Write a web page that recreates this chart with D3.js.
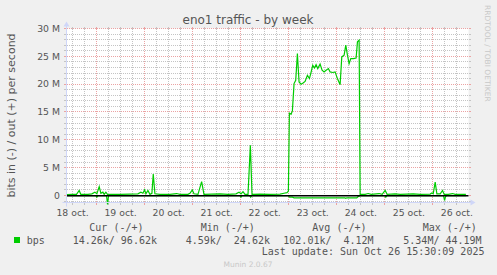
<!DOCTYPE html>
<meta charset="utf-8">
<style>
    body {
        margin: 0;
        background: #f0f0f0;
    }

    text {
        font-family: "DejaVu Sans", sans-serif;
        fill: #555;
    }

    .mono {
        font-family: "DejaVu Sans Mono", monospace;
        font-size: 10px;
    }
</style>

<body>
    <script src="https://d3js.org/d3.v7.min.js"></script>
    <script>
        // eno1 traffic, Mbit/s (UTC)
        var outTimes = [
            "2025-10-18 09:10", "2025-10-18 11:40", "2025-10-18 14:00", "2025-10-18 15:20", "2025-10-18 16:10",
            "2025-10-18 19:40", "2025-10-18 21:40", "2025-10-18 23:10",
            "2025-10-19 00:10", "2025-10-19 01:20", "2025-10-19 02:10", "2025-10-19 03:10", "2025-10-19 03:50",
            "2025-10-19 04:40", "2025-10-19 05:40", "2025-10-19 06:40", "2025-10-19 11:40", "2025-10-19 16:40",
            "2025-10-19 20:40", "2025-10-19 22:10", "2025-10-19 23:10",
            "2025-10-20 00:00", "2025-10-20 00:40", "2025-10-20 01:40", "2025-10-20 02:40", "2025-10-20 03:40",
            "2025-10-20 04:20", "2025-10-20 05:10", "2025-10-20 07:40", "2025-10-20 12:40", "2025-10-20 16:00",
            "2025-10-20 17:40", "2025-10-20 21:40", "2025-10-20 22:40", "2025-10-20 23:50",
            "2025-10-21 00:40", "2025-10-21 02:40", "2025-10-21 04:30", "2025-10-21 05:40", "2025-10-21 09:40",
            "2025-10-21 13:40", "2025-10-21 17:40", "2025-10-21 21:40", "2025-10-21 23:10",
            "2025-10-22 00:10", "2025-10-22 01:10", "2025-10-22 02:10", "2025-10-22 03:40", "2025-10-22 04:50",
            "2025-10-22 05:40", "2025-10-22 09:40", "2025-10-22 14:40", "2025-10-22 19:40", "2025-10-22 21:40",
            "2025-10-22 23:10", "2025-10-22 23:50",
            "2025-10-23 00:20", "2025-10-23 01:10", "2025-10-23 01:50", "2025-10-23 02:40", "2025-10-23 03:30",
            "2025-10-23 04:20", "2025-10-23 05:10", "2025-10-23 06:10", "2025-10-23 07:10", "2025-10-23 08:10",
            "2025-10-23 09:20", "2025-10-23 10:20", "2025-10-23 11:00", "2025-10-23 12:00", "2025-10-23 12:50",
            "2025-10-23 13:40", "2025-10-23 14:30", "2025-10-23 15:40", "2025-10-23 16:40", "2025-10-23 17:40",
            "2025-10-23 18:40", "2025-10-23 19:50", "2025-10-23 20:40", "2025-10-23 22:00", "2025-10-23 23:10",
            "2025-10-24 00:20", "2025-10-24 01:40", "2025-10-24 02:30", "2025-10-24 03:40", "2025-10-24 04:30",
            "2025-10-24 05:20", "2025-10-24 06:10", "2025-10-24 07:00", "2025-10-24 08:20", "2025-10-24 09:40",
            "2025-10-24 10:20", "2025-10-24 11:10", "2025-10-24 11:40", "2025-10-24 14:10", "2025-10-24 15:40",
            "2025-10-24 17:10", "2025-10-24 21:10", "2025-10-24 22:40",
            "2025-10-25 00:10", "2025-10-25 01:10", "2025-10-25 05:10", "2025-10-25 07:40", "2025-10-25 14:10",
            "2025-10-25 17:40", "2025-10-25 22:40", "2025-10-25 23:30",
            "2025-10-26 00:10", "2025-10-26 01:10", "2025-10-26 02:00", "2025-10-26 03:40", "2025-10-26 04:50",
            "2025-10-26 05:40", "2025-10-26 07:40", "2025-10-26 09:50", "2025-10-26 11:10", "2025-10-26 16:30"
        ];
        var outMbps = [
            0.15, 0.2, 0.2, 0.9, 0.2,
            0.2, 0.3, 0.6,
            0.3, 1.6, 0.4, 0.6, 0.2,
            0.6, 0.1, 0.2, 0.2, 0.25,
            0.3, 0.6, 0.4,
            1.0, 0.3, 0.9, 0.2, 0.4,
            3.85, 0.3, 0.2, 0.2, 0.35,
            0.2, 0.2, 0.4, 1.0,
            0.3, 0.2, 2.5, 0.2, 0.25,
            0.3, 0.2, 0.3, 0.6,
            0.3, 0.7, 0.2, 0.2, 9.0,
            0.2, 0.25, 0.2, 0.25, 0.4,
            0.5, 0.8,
            14.8, 14.6, 15.2, 20.1, 20.7,
            25.5, 20.4, 20.0, 20.2, 20.5,
            21.6, 21.0, 21.9, 23.4, 22.9,
            23.5, 22.8, 23.6, 22.5, 22.2,
            22.5, 22.8, 22.2, 22.1, 22.2,
            21.0, 19.9, 24.9, 25.2, 27.0,
            25.2, 23.7, 24.6, 24.6, 24.7,
            27.6, 27.9, 0.2, 0.2, 0.35,
            0.2, 0.35, 0.2,
            0.9, 0.2, 0.3, 0.2, 0.3,
            0.2, 0.25, 0.45,
            0.3, 2.4, 0.3, 0.3, 0.9,
            0.2, 0.2, 0.35, 0.2, 0.2
        ];
        // incoming traffic, drawn below zero
        var inTimes = [
            "2025-10-18 09:10", "2025-10-18 23:40", "2025-10-19 00:10", "2025-10-19 00:40", "2025-10-19 05:00",
            "2025-10-19 05:30", "2025-10-19 06:00", "2025-10-21 23:40", "2025-10-22 00:10", "2025-10-22 00:40",
            "2025-10-22 04:30", "2025-10-22 05:00", "2025-10-22 05:30", "2025-10-22 23:50", "2025-10-23 00:20",
            "2025-10-23 01:50", "2025-10-23 02:40", "2025-10-24 04:00", "2025-10-24 04:30", "2025-10-24 05:00",
            "2025-10-24 10:00", "2025-10-24 10:40", "2025-10-24 11:40", "2025-10-25 00:00", "2025-10-25 00:30",
            "2025-10-25 01:00", "2025-10-26 05:20", "2025-10-26 05:50", "2025-10-26 06:20", "2025-10-26 06:50",
            "2025-10-26 16:30"
        ];
        var inMbps = [
            0.05, 0.05, 0.3, 0.05, 0.05,
            1.6, 0.05, 0.05, 0.3, 0.05,
            0.05, 0.3, 0.05, 0.05, 0.3,
            0.3, 0.42, 0.42, 0.5, 0.42,
            0.42, 0.2, 0.05, 0.05, 0.3,
            0.05, 0.05, 0.9, 0.2, 0.05,
            0.05
        ];

        var dayLabels = ["18 oct.", "19 oct.", "20 oct.", "21 oct.", "22 oct.", "23 oct.", "24 oct.", "25 oct.", "26 oct."];
        var yTicks = [0, 5, 10, 15, 20, 25, 30];
        var yTickLabels = ["0", "5 M", "10 M", "15 M", "20 M", "25 M", "30 M"];
        var legendHeads = ["Cur (-/+)", "Min (-/+)", "Avg (-/+)", "Max (-/+)"];
        var legendValues = ["14.26k/ 96.62k", "4.59k/  24.62k", "102.01k/  4.12M", "5.34M/ 44.19M"];

        var width = 497,
            height = 275;

        var svg = d3.select("body").append("svg")
            .attr("width", width)
            .attr("height", height);

        svg.append("rect")
            .attr("width", width)
            .attr("height", height)
            .attr("fill", "#f0f0f0");

        var parse = d3.utcParse("%Y-%m-%d %H:%M");

        // plot box (window.top is taken, so prefixed names)
        var pLeft = 66.5, pRight = 468.5, pTop = 28.5, pBottom = 202.5;

        var x = d3.scaleUtc()
            .domain([parse("2025-10-18 09:00"), parse("2025-10-26 17:48")])
            .range([pLeft, pRight]);

        var y = d3.scaleLinear()
            .domain([-1.26, 30])
            .range([pBottom, pTop]);

        var snap = function (v) { return Math.round(v - 0.5) + 0.5; };
        var keepSpaces = function (s) { return s.replace(/ /g, "\u00a0"); };

        svg.append("rect")
            .attr("x", pLeft)
            .attr("y", pTop)
            .attr("width", pRight - pLeft)
            .attr("height", pBottom - pTop)
            .attr("fill", "#fff");

        // grid
        var minorCol = "#c4c4c4", majorCol = "#eba3a3";
        var grid = svg.append("g").attr("shape-rendering", "crispEdges");

        x.ticks(d3.utcHour.every(6)).forEach(function (t) {
            var xx = snap(x(t));
            var major = t.getUTCHours() == 0;
            var c = major ? majorCol : minorCol;
            grid.append("line")
                .attr("x1", xx).attr("x2", xx)
                .attr("y1", pTop).attr("y2", pBottom)
                .attr("stroke", c)
                .attr("stroke-dasharray", "1,1");
            grid.append("line")
                .attr("x1", xx).attr("x2", xx)
                .attr("y1", pBottom).attr("y2", pBottom + 2.5)
                .attr("stroke", c);
            grid.append("line")
                .attr("x1", xx).attr("x2", xx)
                .attr("y1", pTop - 2).attr("y2", pTop)
                .attr("stroke", c);
        });

        d3.range(-1, 31).forEach(function (v) {
            var yy = snap(y(v));
            var c = v % 5 == 0 ? majorCol : minorCol;
            grid.append("line")
                .attr("x1", pLeft).attr("x2", pRight)
                .attr("y1", yy).attr("y2", yy)
                .attr("stroke", c)
                .attr("stroke-dasharray", "1,1");
            grid.append("line")
                .attr("x1", pLeft - 2.5).attr("x2", pLeft)
                .attr("y1", yy).attr("y2", yy)
                .attr("stroke", c);
            grid.append("line")
                .attr("x1", pRight).attr("x2", pRight + 2)
                .attr("y1", yy).attr("y2", yy)
                .attr("stroke", c);
        });

        // y tick labels
        svg.selectAll(".ylab")
            .data(yTicks)
            .enter().append("text")
            .attr("class", "ylab")
            .attr("x", 60)
            .attr("y", function (d) { return y(d); })
            .attr("dy", "0.35em")
            .attr("text-anchor", "end")
            .style("font-size", "9.3px")
            .text(function (d, i) { return yTickLabels[i]; });

        // day labels at noon
        svg.selectAll(".xlab")
            .data(dayLabels)
            .enter().append("text")
            .attr("class", "xlab")
            .attr("x", function (d, i) { return x(parse("2025-10-" + (18 + i) + " 12:00")); })
            .attr("y", 216)
            .attr("text-anchor", "middle")
            .style("font-size", "9.3px")
            .text(function (d) { return d; });

        // series
        var outData = outTimes.map(function (t, i) { return { t: parse(t), v: outMbps[i] }; });
        var inData = inTimes.map(function (t, i) { return { t: parse(t), v: -inMbps[i] }; });

        var line = d3.line()
            .x(function (d) { return x(d.t); })
            .y(function (d) { return y(d.v); });

        svg.append("path")
            .datum(outData)
            .attr("d", line)
            .attr("fill", "none")
            .attr("stroke", "#00cc00")
            .attr("stroke-width", 1.2);

        svg.append("path")
            .datum(inData)
            .attr("d", line)
            .attr("fill", "none")
            .attr("stroke", "#00cc00")
            .attr("stroke-width", 1.2);

        // zero rule
        svg.append("line")
            .attr("x1", pLeft).attr("x2", pRight)
            .attr("y1", y(0) + 0.3).attr("y2", y(0) + 0.3)
            .attr("stroke", "#000")
            .attr("stroke-width", 1.6);

        // axes with arrows
        var axisCol = "#cfd6f8";
        svg.append("line")
            .attr("x1", pLeft - 4).attr("x2", pRight + 4)
            .attr("y1", pBottom).attr("y2", pBottom)
            .attr("stroke", axisCol);
        svg.append("line")
            .attr("x1", pLeft).attr("x2", pLeft)
            .attr("y1", pBottom + 4).attr("y2", pTop - 4)
            .attr("stroke", axisCol);
        svg.append("path")
            .attr("d", "M" + (pRight + 2) + "," + (pBottom - 3) + "L" + (pRight + 2) + "," + (pBottom + 3) + "L" + (pRight + 7) + "," + pBottom + "Z")
            .attr("fill", axisCol);
        svg.append("path")
            .attr("d", "M" + (pLeft - 3) + "," + (pTop - 2) + "L" + (pLeft + 3) + "," + (pTop - 2) + "L" + pLeft + "," + (pTop - 7) + "Z")
            .attr("fill", axisCol);

        // title and unit label
        svg.append("text")
            .attr("x", 248)
            .attr("y", 24)
            .attr("text-anchor", "middle")
            .style("font-size", "12px")
            .text("eno1 traffic - by week");

        svg.append("text")
            .attr("transform", "translate(10.7," + ((pTop + pBottom) / 2) + ") rotate(-90)")
            .attr("dy", "0.35em")
            .attr("text-anchor", "middle")
            .style("font-size", "11px")
            .text("bits in (-) / out (+) per second");

        svg.append("text")
            .attr("transform", "translate(487.5,5) rotate(90)")
            .attr("dy", "0.35em")
            .style("font-size", "7.5px")
            .style("fill", "#c8c8c8")
            .text("RRDTOOL / TOBI OETIKER");

        // legend
        var headX = [89.3, 200.7, 312.3, 422.7];
        var valX = [72.7, 185.7, 283.3, 403.3];

        svg.selectAll(".lhead")
            .data(legendHeads)
            .enter().append("text")
            .attr("class", "lhead mono")
            .attr("x", function (d, i) { return headX[i]; })
            .attr("y", 230.5)
            .text(function (d) { return d; });

        svg.append("rect")
            .attr("x", 14).attr("y", 237)
            .attr("width", 6).attr("height", 6)
            .attr("fill", "#00cc00");

        svg.append("text")
            .attr("class", "mono")
            .attr("x", 26.7)
            .attr("y", 244)
            .text("bps");

        svg.selectAll(".lval")
            .data(legendValues)
            .enter().append("text")
            .attr("class", "lval mono")
            .attr("x", function (d, i) { return valX[i]; })
            .attr("y", 244)
            .text(function (d) { return keepSpaces(d); });

        svg.append("text")
            .attr("class", "mono")
            .attr("x", 261.7)
            .attr("y", 255)
            .text("Last update: Sun Oct 26 15:30:09 2025");

        svg.append("text")
            .attr("x", 248)
            .attr("y", 267)
            .attr("text-anchor", "middle")
            .style("font-size", "7.5px")
            .style("fill", "#c8c8c8")
            .text("Munin 2.0.67");
    </script>
</body>
